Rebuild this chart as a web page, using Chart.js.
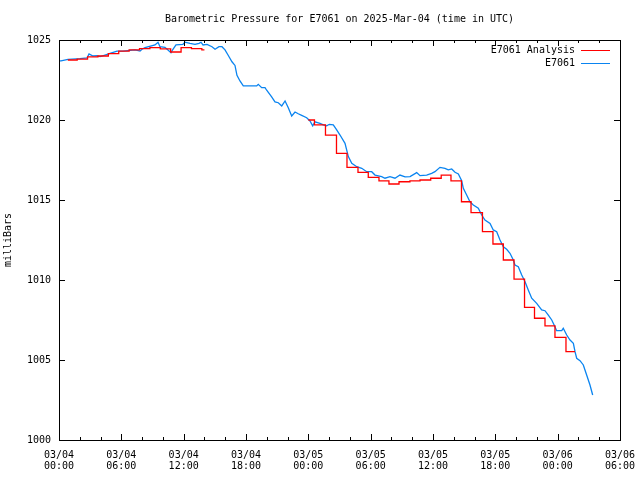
<!DOCTYPE html>
<html>
<head>
<meta charset="utf-8">
<script src="https://cdn.jsdelivr.net/npm/chart.js@4.4.1/dist/chart.umd.min.js"></script>
<style>
  html, body { margin: 0; padding: 0; background: #fff; }
  canvas { display: block; }
</style>
</head>
<body>
<canvas id="grafico" width="640" height="480"></canvas>
<script>
// ==================== DADOS ====================
// horas desde 03/04 00:00 UTC

const tituloGrafico = 'Barometric Pressure for E7061 on 2025-Mar-04 (time in UTC)';
const rotuloY = 'milliBars';

const tickDatas = ['03/04', '03/04', '03/04', '03/04', '03/05', '03/05', '03/05', '03/05', '03/06', '03/06'];
const tickHoras = ['00:00', '06:00', '12:00', '18:00', '00:00', '06:00', '12:00', '18:00', '00:00', '06:00'];

// E7061 (observado)
const obsHoras = [
  0.05, 0.19, 0.87, 2.02, 2.70, 2.89, 3.27, 3.66, 3.95, 4.43, 4.91, 5.58, 6.16, 7.32, 7.80, 7.99,
  8.28, 9.24, 9.53, 9.72, 10.20, 10.78, 10.97, 11.26, 11.93, 12.13, 12.61, 13.09, 13.48, 13.67, 13.86,
  14.25, 14.73, 15.02, 15.40, 15.69, 15.98, 16.27, 16.65, 16.94, 17.13, 17.42, 17.74, 19.03, 19.18,
  19.51, 19.83, 19.99, 20.47, 20.79, 21.11, 21.44, 21.76, 22.07, 22.40, 22.72, 23.03, 23.36, 23.84,
  24.16, 24.42, 24.64, 25.12, 25.44, 25.77, 26.02, 26.40, 26.73, 27.05, 27.53, 27.85, 28.18, 28.66,
  29.14, 29.62, 30.10, 30.42, 31.06, 31.38, 31.86, 32.34, 32.82, 33.31, 33.79, 34.43, 34.75, 35.39,
  35.87, 36.19, 36.67, 37.15, 37.47, 37.80, 38.12, 38.44, 38.76, 38.92, 39.24, 39.56, 39.88, 40.36,
  40.69, 41.00, 41.49, 41.80, 42.13, 42.45, 42.77, 43.09, 43.41, 43.73, 43.89, 44.21, 44.54, 44.86,
  45.17, 45.50, 45.98, 46.46, 46.78, 47.10, 47.43, 47.74, 47.90, 48.39, 48.54, 48.87, 49.19, 49.51,
  49.67, 49.83, 50.15, 50.47, 50.79, 51.11, 51.37
];
const obsValores = [
  1023.69, 1023.69, 1023.79, 1023.84, 1023.88, 1024.13, 1024.00, 1024.02, 1023.96, 1024.06, 1024.16, 1024.31, 1024.31, 1024.38, 1024.31, 1024.42,
  1024.52, 1024.69, 1024.86, 1024.58, 1024.54, 1024.21, 1024.42, 1024.69, 1024.73, 1024.86, 1024.79, 1024.73, 1024.79, 1024.86, 1024.69,
  1024.73, 1024.58, 1024.42, 1024.58, 1024.58, 1024.38, 1024.06, 1023.64, 1023.41, 1022.79, 1022.44, 1022.13, 1022.13, 1022.23,
  1022.02, 1022.02, 1021.86, 1021.44, 1021.13, 1021.08, 1020.88, 1021.19, 1020.77, 1020.25, 1020.50, 1020.39, 1020.29, 1020.14,
  1019.94, 1019.63, 1019.89, 1019.79, 1019.69, 1019.63, 1019.73, 1019.69, 1019.38, 1019.06, 1018.54, 1017.71, 1017.29, 1017.08,
  1016.98, 1016.77, 1016.77, 1016.56, 1016.46, 1016.36, 1016.46, 1016.36, 1016.56, 1016.44, 1016.46, 1016.71, 1016.52, 1016.56,
  1016.67, 1016.77, 1017.04, 1016.98, 1016.88, 1016.94, 1016.73, 1016.63, 1016.21, 1015.73, 1015.31, 1014.89, 1014.69, 1014.48,
  1014.06, 1013.75, 1013.54, 1013.13, 1013.02, 1012.50, 1012.08, 1011.92, 1011.67, 1011.25, 1010.94, 1010.83, 1010.31, 1009.89,
  1009.38, 1008.86, 1008.54, 1008.13, 1008.08, 1007.81, 1007.50, 1007.08, 1006.83, 1006.83, 1006.98, 1006.56, 1006.25, 1006.04,
  1005.52, 1005.11, 1004.96, 1004.69, 1004.06, 1003.44, 1002.81
];

// E7061 Analysis (degraus; null = sem dados)
const anaHoras = [
  0.85, 1.75, 2.75, 3.75, 4.75, 5.75, 6.75, 7.75, 8.75, 9.75, 10.75, 11.75, 12.75, 13.75, 14.0,
  19.0,
  24.0, 24.59, 25.65, 26.71, 27.72, 28.78, 29.77, 30.80, 31.76, 32.73, 33.78, 34.75, 35.78, 36.79,
  37.73, 38.74, 39.66, 40.76, 41.77, 42.77, 43.80, 44.81, 45.77, 46.78, 47.74, 48.80, 49.67
];
const anaValores = [
  1023.75, 1023.81, 1023.94, 1024.00, 1024.15, 1024.31, 1024.38, 1024.46, 1024.52, 1024.44, 1024.25, 1024.52, 1024.46, 1024.38, 1024.38,
  null,
  1020.00, 1019.69, 1019.06, 1017.92, 1017.04, 1016.73, 1016.42, 1016.19, 1016.00, 1016.14, 1016.19, 1016.25, 1016.36, 1016.56,
  1016.19, 1014.89, 1014.21, 1013.02, 1012.25, 1011.25, 1010.06, 1008.29, 1007.61, 1007.13, 1006.42, 1005.52, 1005.52
];

const FONTE = 'DejaVu Sans Mono';

// Juntar horas e valores em pontos
function montarPontos(horas, valores) {
    return horas.map((h, i) => ({ x: h, y: valores[i] }));
}

// Moldura, marcas internas, título e legenda no estilo gnuplot
const estiloGnuplot = {
    id: 'estiloGnuplot',
    afterDatasetsDraw(chart) {
        const { ctx, chartArea: a, scales } = chart;
        ctx.save();
        ctx.strokeStyle = '#000';
        ctx.lineWidth = 1;
        ctx.beginPath();
        // marcas do eixo x, a cada 2 horas
        for (let h = 0; h <= 54; h += 2) {
            const x = Math.round(scales.x.getPixelForValue(h)) + 0.5;
            const tam = h % 6 === 0 ? 6 : 3;
            ctx.moveTo(x, a.bottom); ctx.lineTo(x, a.bottom - tam);
            ctx.moveTo(x, a.top); ctx.lineTo(x, a.top + tam);
        }
        // marcas do eixo y
        for (let v = 1000; v <= 1025; v += 5) {
            const y = Math.round(scales.y.getPixelForValue(v)) + 0.5;
            ctx.moveTo(a.left, y); ctx.lineTo(a.left + 6, y);
            ctx.moveTo(a.right, y); ctx.lineTo(a.right - 6, y);
        }
        ctx.stroke();
        ctx.strokeRect(Math.round(a.left) + 0.5, Math.round(a.top) + 0.5,
            Math.round(a.right - a.left), Math.round(a.bottom - a.top));

        // título
        ctx.fillStyle = '#000';
        ctx.font = '10px "' + FONTE + '"';
        ctx.textAlign = 'center';
        ctx.textBaseline = 'middle';
        ctx.fillText(tituloGrafico, (a.left + a.right) / 2, 19);

        // legenda
        ctx.textAlign = 'right';
        chart.data.datasets.forEach((ds, i) => {
            const y = 50 + i * 13;
            ctx.fillStyle = '#000';
            ctx.fillText(ds.label, 575, y);
            ctx.strokeStyle = ds.borderColor;
            ctx.beginPath();
            ctx.moveTo(581, Math.round(y) + 0.5);
            ctx.lineTo(610, Math.round(y) + 0.5);
            ctx.stroke();
        });
        ctx.restore();
    }
};

new Chart(document.getElementById('grafico').getContext('2d'), {
    type: 'line',
    data: {
        datasets: [{
            label: 'E7061 Analysis',
            data: montarPontos(anaHoras, anaValores),
            borderColor: '#ff0000',
            borderWidth: 1.3,
            pointRadius: 0,
            stepped: 'before',
            spanGaps: false
        }, {
            label: 'E7061',
            data: montarPontos(obsHoras, obsValores),
            borderColor: '#0a84f0',
            borderWidth: 1.3,
            pointRadius: 0,
            tension: 0
        }]
    },
    options: {
        responsive: false,
        animation: false,
        layout: { padding: { top: 40, right: 20, left: 0, bottom: 0 } },
        plugins: {
            legend: { display: false },
            tooltip: { enabled: false }
        },
        scales: {
            x: {
                type: 'linear',
                min: 0,
                max: 54,
                afterFit: s => { s.height = 40; s.paddingLeft = 0; s.paddingRight = 0; },
                grid: { display: false, drawTicks: false },
                border: { display: false },
                ticks: {
                    stepSize: 6,
                    autoSkip: false,
                    maxRotation: 0,
                    padding: 10,
                    color: '#000',
                    font: { family: FONTE, size: 10, lineHeight: 1.1 },
                    callback: (v) => {
                        const i = Math.round(v / 6);
                        return [tickDatas[i], tickHoras[i]];
                    }
                }
            },
            y: {
                min: 1000,
                max: 1025,
                afterFit: s => { s.width = 59; s.paddingTop = 0; s.paddingBottom = 0; },
                grid: { display: false, drawTicks: false },
                border: { display: false },
                ticks: {
                    stepSize: 5,
                    padding: 8,
                    color: '#000',
                    font: { family: FONTE, size: 10 },
                    callback: v => String(v)
                },
                title: {
                    display: true,
                    text: rotuloY,
                    color: '#000',
                    font: { family: FONTE, size: 10 },
                    padding: { top: 2, bottom: 2 }
                }
            }
        }
    },
    plugins: [estiloGnuplot]
});
</script>
</body>
</html>
